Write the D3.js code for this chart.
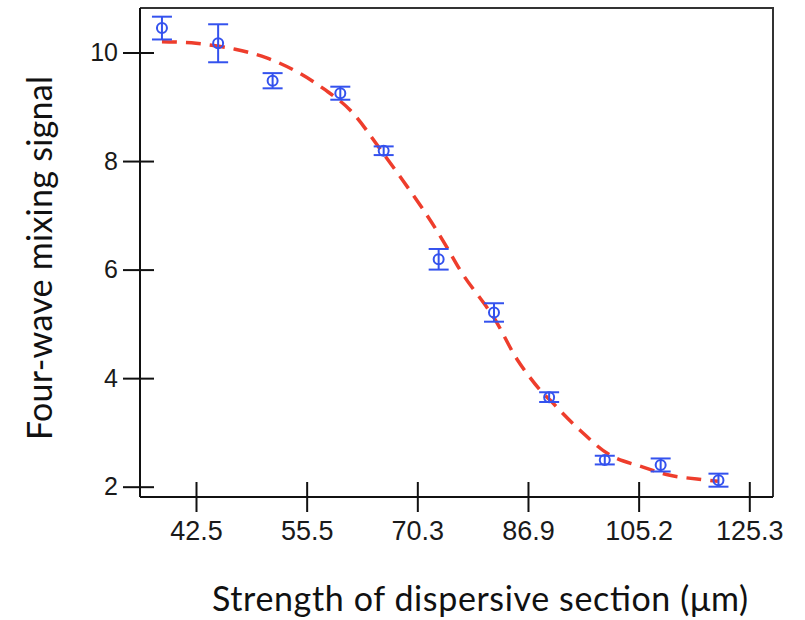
<!DOCTYPE html>
<html>
<head>
<meta charset="utf-8">
<script src="https://cdn.jsdelivr.net/npm/d3@7"></script>
<style>
  html, body { margin: 0; padding: 0; background: #fff; }
  svg { display: block; }
</style>
</head>
<body>
<div id="chart"></div>
<script>
// ---- data ----
const xTickValues = [42.5, 55.5, 70.3, 86.9, 105.2, 125.3];
const yTickValues = [2, 4, 6, 8, 10];
const pointX   = [38.5, 45.1, 51.5, 60.0, 65.8, 73.5, 81.8, 90.4, 99.6, 109.2, 119.7];
const pointY   = [10.45, 10.17, 9.48, 9.25, 8.19, 6.19, 5.21, 3.65, 2.49, 2.40, 2.12];
const pointErr = [0.21, 0.35, 0.14, 0.12, 0.08, 0.19, 0.17, 0.09, 0.08, 0.12, 0.12];
const fitX = [38.5, 42.5, 47.1, 50.8, 54.3, 58.0, 61.3, 65.7, 71.7, 74.5, 77.2, 81.7, 85.3, 88.9, 90.5, 95.5, 100.5, 106.0, 110.9, 115.8, 119.6];
const fitY = [10.20, 10.17, 10.06, 9.90, 9.65, 9.31, 8.94, 8.15, 7.01, 6.46, 5.90, 5.13, 4.34, 3.78, 3.60, 3.04, 2.58, 2.36, 2.21, 2.14, 2.10];
const xTitle = "Strength of dispersive section (\u03bcm)";
const yTitle = "Four-wave mixing signal";

// ---- layout ----
const W = 805, H = 620;
const plot = { left: 140, right: 773, top: 8, bottom: 497 };
const blue = "#3452ee", red = "#ee3d2c";

const svg = d3.select("#chart").append("svg").attr("width", W).attr("height", H);

const tickStep = 110.66, firstTick = 196;
const x = d3.scaleLinear()
  .domain(xTickValues)
  .range(xTickValues.map((d, i) => firstTick + i * tickStep));
const y = d3.scaleLinear().domain([1.81, 10.82]).range([plot.bottom, plot.top]);

// frame (top and right)
svg.append("path")
  .attr("d", `M${plot.left},${plot.top}H${plot.right}V${plot.bottom}`)
  .attr("fill", "none").attr("stroke", "#333").attr("stroke-width", 2);

// fit curve
const fitData = fitX.map((d, i) => [d, fitY[i]]);
svg.append("path")
  .datum(fitData)
  .attr("fill", "none")
  .attr("stroke", red)
  .attr("stroke-width", 3.5)
  .attr("stroke-dasharray", "15,9")
  .attr("d", d3.line().x(d => x(d[0])).y(d => y(d[1])).curve(d3.curveCatmullRom.alpha(0.5)));

// points with error bars
const pts = pointX.map((d, i) => ({ x: d, y: pointY[i], e: pointErr[i] }));
const g = svg.append("g").attr("stroke", blue).attr("stroke-width", 2).attr("fill", "none");
const pg = g.selectAll("g.pt").data(pts).join("g").attr("class", "pt");
pg.append("line")
  .attr("x1", d => x(d.x)).attr("x2", d => x(d.x))
  .attr("y1", d => y(d.y + d.e)).attr("y2", d => y(d.y - d.e));
pg.append("line")
  .attr("x1", d => x(d.x) - 10).attr("x2", d => x(d.x) + 10)
  .attr("y1", d => y(d.y + d.e)).attr("y2", d => y(d.y + d.e));
pg.append("line")
  .attr("x1", d => x(d.x) - 10).attr("x2", d => x(d.x) + 10)
  .attr("y1", d => y(d.y - d.e)).attr("y2", d => y(d.y - d.e));
pg.append("circle")
  .attr("cx", d => x(d.x)).attr("cy", d => y(d.y)).attr("r", 5);

// axes
const xAxis = svg.append("g")
  .attr("transform", `translate(0,${plot.bottom})`)
  .call(d3.axisBottom(x).tickValues(xTickValues).tickFormat(d => d.toFixed(1))
        .tickSizeOuter(0).tickSize(15).tickPadding(9));
xAxis.select(".domain").attr("d", `M${plot.left},0H${plot.right}`);
xAxis.selectAll(".tick line").attr("y1", -15);

const yAxis = svg.append("g")
  .attr("transform", `translate(${plot.left},0)`)
  .call(d3.axisLeft(y).tickValues(yTickValues).tickFormat(d3.format("d"))
        .tickSizeOuter(0).tickSize(17).tickPadding(5));
yAxis.select(".domain").attr("d", `M0,${plot.top}V${plot.bottom}`);
yAxis.selectAll(".tick line").attr("x1", 14);

svg.selectAll(".domain, .tick line").attr("stroke", "#111").attr("stroke-width", 2);
xAxis.selectAll(".tick text").attr("font-family", "Liberation Sans, Arial, sans-serif")
  .attr("font-size", 27).attr("fill", "#1a1a1a");
yAxis.selectAll(".tick text").attr("font-family", "Liberation Sans, Arial, sans-serif")
  .attr("font-size", 25).attr("fill", "#1a1a1a");

// titles
svg.append("text")
  .attr("x", 480).attr("y", 611)
  .attr("text-anchor", "middle")
  .attr("font-family", "Lato, 'Open Sans', sans-serif")
  .attr("font-size", 34).attr("fill", "#111")
  .attr("textLength", 536)
  .text(xTitle);

svg.append("text")
  .attr("transform", "translate(52,258) rotate(-90)")
  .attr("text-anchor", "middle")
  .attr("font-family", "Lato, 'Open Sans', sans-serif")
  .attr("font-size", 34).attr("fill", "#111")
  .attr("textLength", 364)
  .text(yTitle);
</script>
</body>
</html>
